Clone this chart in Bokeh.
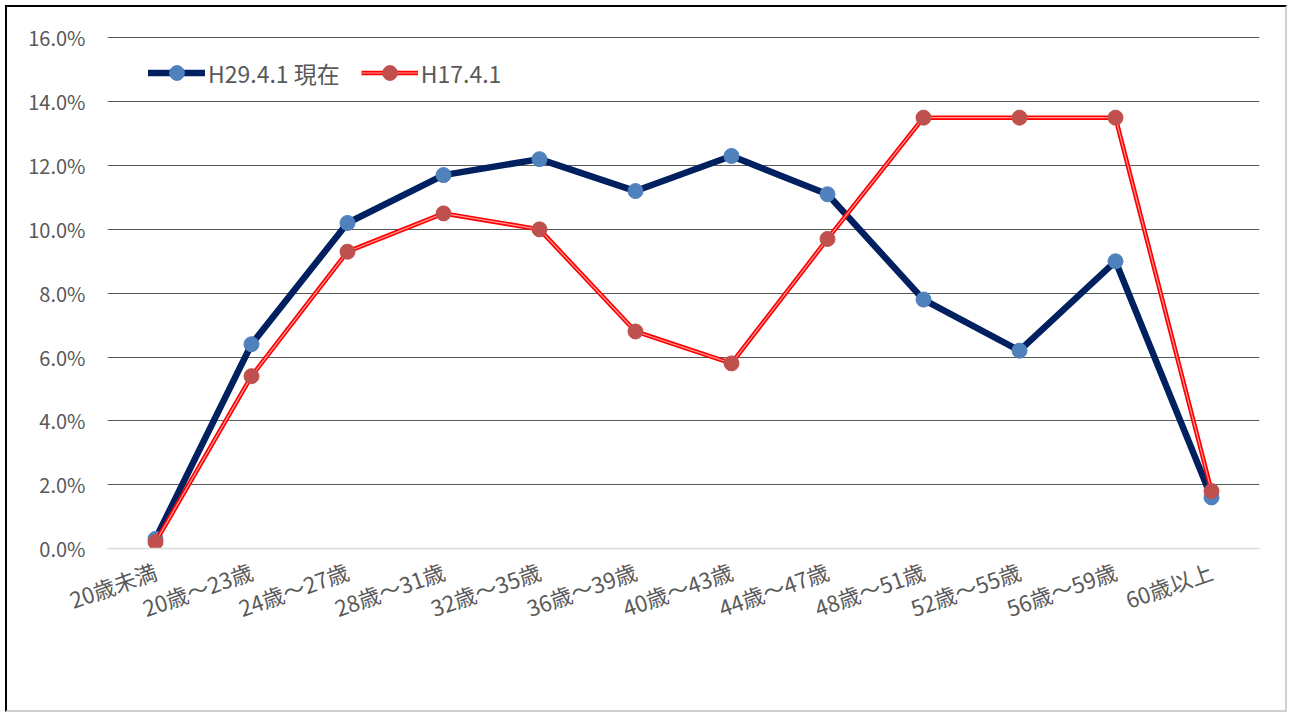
from bokeh.plotting import figure
from bokeh.models import Range1d, FactorRange, PrintfTickFormatter, FixedTicker, Legend, LegendItem, ColumnDataSource
from bokeh.embed import file_html
from bokeh.resources import INLINE

categories = ["20歳未満", "20歳～23歳", "24歳～27歳", "28歳～31歳", "32歳～35歳", "36歳～39歳",
              "40歳～43歳", "44歳～47歳", "48歳～51歳", "52歳～55歳", "56歳～59歳", "60歳以上"]
h29 = [0.3, 6.4, 10.2, 11.7, 12.2, 11.2, 12.3, 11.1, 7.8, 6.2, 9.0, 1.6]
h17 = [0.2, 5.4, 9.3, 10.5, 10.0, 6.8, 5.8, 9.7, 13.5, 13.5, 13.5, 1.8]
y_ticks = [0, 2, 4, 6, 8, 10, 12, 14, 16]
series_names = ["H29.4.1 現在", "H17.4.1"]

FONT = "Noto Sans CJK JP"

p = figure(width=1282, height=707, x_range=FactorRange(*categories, range_padding=0),
           y_range=Range1d(0, 16.2), output_backend="svg", toolbar_location=None,
           min_border_left=100, min_border_right=30, min_border_top=24, min_border_bottom=166)
p.styles = {"border-left": "2px solid #000000", "border-top": "2px solid #000000",
            "border-right": "2px solid #d0d0d0", "border-bottom": "2px solid #d0d0d0",
            "box-sizing": "border-box", "margin-left": "5px", "margin-top": "5px"}
p.outline_line_color = None
p.background_fill_color = "white"
p.border_fill_color = "white"

src = ColumnDataSource(dict(x=categories, a=h29, b=h17))

l1 = p.line("x", "a", source=src, line_color="#002060", line_width=6.5, line_cap="round", line_join="round")
m1 = p.scatter("x", "a", source=src, size=15, fill_color="#4F81BD", line_color="#4F81BD")
l2 = p.line("x", "b", source=src, line_color="#FF0000", line_width=4.5, line_join="round")
l2b = p.line("x", "b", source=src, line_color="#FF9A9A", line_width=1.2, line_join="round")
m2 = p.scatter("x", "b", source=src, size=15, fill_color="#C0504D", line_color="#C0504D")

p.yaxis.ticker = FixedTicker(ticks=y_ticks)
p.yaxis.formatter = PrintfTickFormatter(format="%.1f%%")
p.yaxis.axis_line_color = None
p.yaxis.major_tick_line_color = None
p.yaxis.minor_tick_line_color = None
p.yaxis.major_label_standoff = 16
p.yaxis.major_label_text_font = FONT
p.yaxis.major_label_text_font_size = "20px"
p.yaxis.major_label_text_color = "#595959"

p.ygrid.ticker = FixedTicker(ticks=y_ticks[1:])
p.ygrid.grid_line_color = "#595959"
p.ygrid.grid_line_width = 1
p.xgrid.grid_line_color = None

p.xaxis.axis_line_color = "#D9D9D9"
p.xaxis.axis_line_width = 1.5
p.xaxis.major_tick_line_color = None
p.xaxis.minor_tick_line_color = None
p.xaxis.major_label_orientation = 0.34
p.xaxis.major_label_standoff = 15
p.xaxis.major_label_text_font = FONT
p.xaxis.major_label_text_font_size = "22px"
p.xaxis.major_label_text_color = "#595959"

legend = Legend(items=[LegendItem(label=series_names[0], renderers=[l1, m1]),
                       LegendItem(label=series_names[1], renderers=[l2, l2b, m2])],
                orientation="horizontal", location=(41, 457), padding=0, margin=0,
                spacing=21, glyph_width=57, glyph_height=37, label_standoff=3,
                border_line_color=None, background_fill_alpha=0,
                label_text_font=FONT, label_text_font_size="23px", label_text_color="#595959")
p.add_layout(legend, "center")

open("out.html", "w").write(file_html(p, INLINE))
